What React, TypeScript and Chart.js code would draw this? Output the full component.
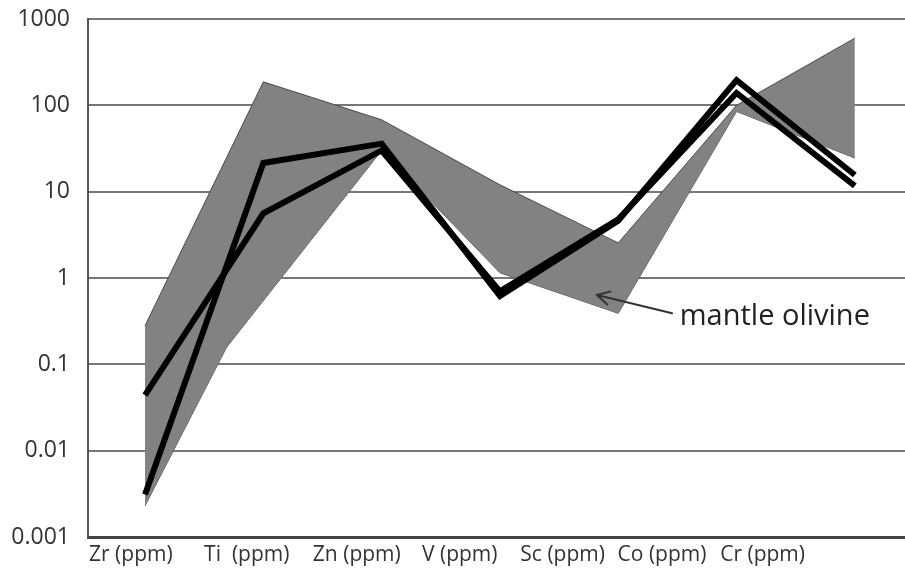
import React, { useEffect, useRef } from 'react';
import { Chart, registerables } from 'chart.js';

Chart.register(...registerables);

// ---- data ----
const CATEGORIES = ['Zr (ppm)', 'Ti  (ppm)', 'Zn (ppm)', 'V (ppm)', 'Sc (ppm)', 'Co (ppm)', 'Cr (ppm)'];

// two sample profiles (black lines), one value per category
const SAMPLE_A = [0.0031, 21.5, 36, 0.62, 4.6, 196, 15.6];
const SAMPLE_B = [0.044, 5.6, 30, 0.7, 4.8, 139, 11.7];

// mantle olivine field (grey band): upper and lower envelopes
const BAND_UPPER_X = [0, 1, 2, 3, 4, 5, 6];
const BAND_UPPER = [0.28, 187, 68, 12, 2.55, 100, 600];
const BAND_LOWER_X = [0, 0.69, 2, 3, 4, 5, 6];
const BAND_LOWER = [0.0023, 0.158, 30, 1.15, 0.39, 85, 24.5];

// y axis ticks
const Y_TICKS = [0.001, 0.01, 0.1, 1, 10, 100, 1000];
const Y_TICK_LABELS = ['0.001', '0.01', '0.1', '1', '10', '100', '1000'];

// category label anchor positions along the x axis (in category units)
const LABEL_POSITIONS = [-0.12, 0.86, 1.79, 2.66, 3.53, 4.37, 5.22];
const X_MIN = -0.482;
const X_MAX = 6.424;

// annotation (in data units)
const ANNOTATION_TEXT = 'mantle olivine';
const ANNOTATION_AT = [4.52, 0.285];
const ARROW_FROM = [4.455, 0.39];
const ARROW_TO = [3.82, 0.635];

const FONT = '"Open Sans", "Noto Sans", sans-serif';

const annotationPlugin = {
  id: 'olivineAnnotation',
  afterDatasetsDraw(chart: any) {
    const { ctx, scales } = chart;
    const xs = scales.x;
    const ys = scales.y;
    const fx = xs.getPixelForValue(ARROW_FROM[0]);
    const fy = ys.getPixelForValue(ARROW_FROM[1]);
    const tx = xs.getPixelForValue(ARROW_TO[0]);
    const ty = ys.getPixelForValue(ARROW_TO[1]);
    ctx.save();
    ctx.strokeStyle = '#333333';
    ctx.lineWidth = 2;
    ctx.lineCap = 'round';
    ctx.beginPath();
    ctx.moveTo(fx, fy);
    ctx.lineTo(tx, ty);
    const ang = Math.atan2(fy - ty, fx - tx);
    const head = 14;
    const spread = 0.5;
    ctx.moveTo(tx + head * Math.cos(ang - spread), ty + head * Math.sin(ang - spread));
    ctx.lineTo(tx, ty);
    ctx.lineTo(tx + head * Math.cos(ang + spread), ty + head * Math.sin(ang + spread));
    ctx.stroke();
    ctx.fillStyle = '#222222';
    ctx.font = `29px ${FONT}`;
    ctx.textAlign = 'left';
    ctx.textBaseline = 'alphabetic';
    ctx.fillText(ANNOTATION_TEXT, xs.getPixelForValue(ANNOTATION_AT[0]), ys.getPixelForValue(ANNOTATION_AT[1]));
    ctx.restore();
  },
};

export default function App() {
  const ref = useRef<HTMLCanvasElement | null>(null);

  useEffect(() => {
    if (!ref.current) return;
    const toPts = (xsArr: number[], vals: number[]) => vals.map((v, i) => ({ x: xsArr[i], y: v }));
    const idx = CATEGORIES.map((_, i) => i);
    const chart = new Chart(ref.current, {
      type: 'line',
      data: {
        datasets: [
          {
            label: 'sample A',
            data: toPts(idx, SAMPLE_A),
            borderColor: '#000000',
            borderWidth: 6,
            pointRadius: 0,
            fill: false,
            tension: 0,
            borderJoinStyle: 'miter',
            order: 0,
          },
          {
            label: 'sample B',
            data: toPts(idx, SAMPLE_B),
            borderColor: '#000000',
            borderWidth: 6,
            pointRadius: 0,
            fill: false,
            tension: 0,
            borderJoinStyle: 'miter',
            order: 0,
          },
          {
            label: 'band lower',
            data: toPts(BAND_LOWER_X, BAND_LOWER),
            borderColor: '#4a4a4a',
            borderWidth: 1,
            pointRadius: 0,
            fill: false,
            tension: 0,
            order: 2,
          },
          {
            label: 'band upper',
            data: toPts(BAND_UPPER_X, BAND_UPPER),
            borderColor: '#4a4a4a',
            borderWidth: 1,
            backgroundColor: '#828282',
            pointRadius: 0,
            fill: '-1',
            tension: 0,
            order: 1,
          },
        ],
      },
      options: {
        animation: false,
        responsive: true,
        maintainAspectRatio: false,
        layout: { padding: { top: 19, left: 0, right: 0, bottom: 0 } },
        plugins: {
          legend: { display: false },
          tooltip: { enabled: false },
        },
        events: [],
        scales: {
          x: {
            type: 'linear',
            min: X_MIN,
            max: X_MAX,
            grid: { display: false, drawTicks: false },
            border: { display: true, color: '#444444', width: 3 },
            afterBuildTicks: (s: any) => {
              s.ticks = LABEL_POSITIONS.map((v) => ({ value: v }));
            },
            afterFit: (s: any) => {
              s.height = 35;
              s.paddingLeft = 0;
              s.paddingRight = 0;
            },
            ticks: {
              autoSkip: false,
              maxRotation: 0,
              minRotation: 0,
              padding: 5,
              color: '#333333',
              font: { family: FONT, size: 21 },
              callback: (_v: any, i: number) => CATEGORIES[i],
            },
          },
          y: {
            type: 'logarithmic',
            min: 0.001,
            max: 1000,
            grid: { color: '#777777', lineWidth: 2, drawTicks: false },
            border: { display: true, color: '#555555', width: 2 },
            afterBuildTicks: (s: any) => {
              s.ticks = Y_TICKS.map((v) => ({ value: v }));
            },
            afterFit: (s: any) => {
              s.width = 88;
              s.paddingTop = 0;
              s.paddingBottom = 0;
            },
            ticks: {
              padding: 18,
              color: '#333333',
              font: { family: FONT, size: 23 },
              callback: (_v: any, i: number) => Y_TICK_LABELS[i],
            },
          },
        },
      },
      plugins: [annotationPlugin],
    });
    return () => chart.destroy();
  }, []);

  return (
    <div style={{ position: 'fixed', left: 0, top: 0, width: 905, height: 572, background: '#ffffff' }}>
      <canvas ref={ref} />
    </div>
  );
}
